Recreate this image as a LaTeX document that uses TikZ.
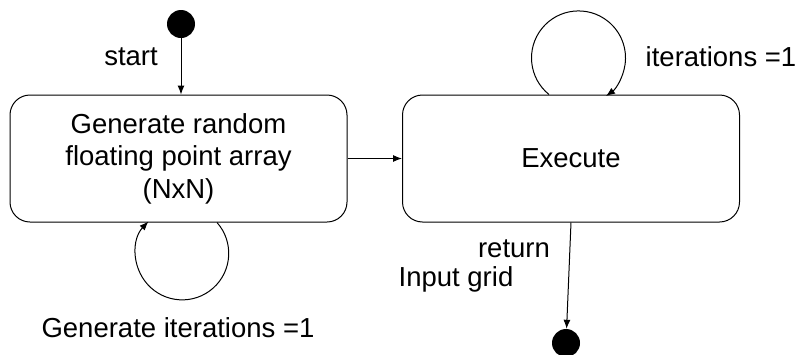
\documentclass[tikz,border=0pt]{standalone}
\usepackage{fontspec}
\setmainfont{Liberation Sans}
\usetikzlibrary{arrows.meta,calc}
\begin{document}
\begin{tikzpicture}[x=1pt,y=-1pt,
  state/.style={draw, rounded corners=20pt, minimum width=337pt, minimum height=127pt, align=center, line width=1pt, inner sep=0pt, font=\fontsize{27.5}{32.5}\selectfont},
  dot/.style={circle, fill=black, minimum size=28pt, inner sep=0pt},
  lbl/.style={font=\fontsize{27.5}{32.5}\selectfont, inner sep=0pt},
  arr/.style={-{Latex[length=9pt,width=7pt]}, line width=1pt}]
\useasboundingbox (0,0) rectangle (796,354);
\node[dot] (s) at (181,24) {};
\node[state] (b1) at (178.5,158.5) {Generate random\\floating point array\\(NxN)};
\node[state] (b2) at (571,158.5) {Execute};
\node[dot] (e) at (566,343) {};
\draw[arr] (s) -- (s |- b1.north);
\draw[arr] (b1) -- (b2);
\draw[arr] (b2.south) -- (e);
\coordinate (l1) at ($(b1.south)+(38.5,0)$);
\draw[arr] (l1) arc[start angle=41.6, end angle=-223.3, radius=46.5pt];
\coordinate (l2) at ($(b2.north)+(-22,0)$);
\draw[arr] (l2) arc[start angle=231.1, end angle=-54.2, radius=47pt];
\node[lbl] (t1) at (131,57) {start};
\node[lbl] (t2) at (178,328) {Generate iterations =1};
\node[lbl] (t3) at (721,57) {iterations =1};
\node[lbl] (t4) at (514,249) {return};
\node[lbl] (t5) at (456,279) {Input grid};
\end{tikzpicture}
\end{document}
